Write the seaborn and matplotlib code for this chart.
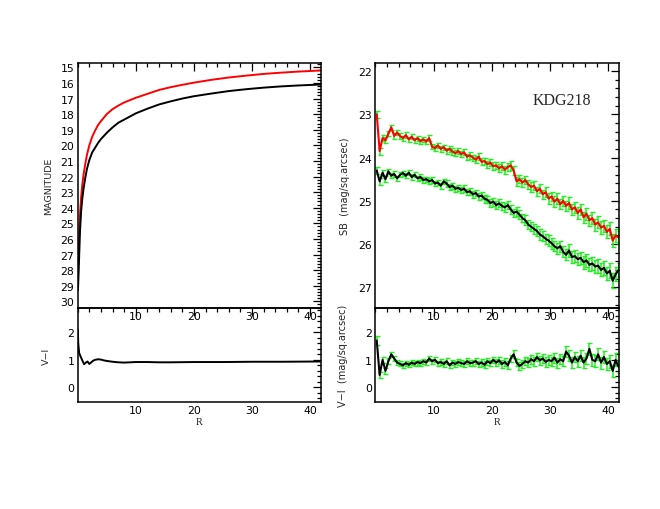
import numpy as np
import matplotlib
matplotlib.use("Agg")
import matplotlib.pyplot as plt
from matplotlib.ticker import MultipleLocator, FixedLocator
import seaborn as sns
import pandas as pd

# ---- cumulative magnitude curves (left top) ----
r_cum = [0.05, 0.2, 0.4, 0.6, 0.8, 1.0, 1.3, 1.6, 2.0, 2.5, 3.0, 3.5, 4.0, 5.0, 6.0,
         7.0, 8.0, 10.0, 12.0, 14.0, 16.0, 18.0, 20.0, 23.0, 26.0, 29.0, 32.0, 35.0, 38.0, 41.8]
mag_red = [28.5, 26.4, 24.4, 23.3, 22.5, 21.9, 21.2, 20.6, 20.0, 19.45, 19.05, 18.7, 18.45,
           18.0, 17.68, 17.45, 17.25, 16.95, 16.7, 16.45, 16.27, 16.12, 15.98, 15.8, 15.65,
           15.53, 15.42, 15.34, 15.27, 15.2]
mag_black = [29.3, 27.7, 25.5, 24.2, 23.4, 22.8, 22.1, 21.5, 20.95, 20.45, 20.15, 19.85, 19.6,
             19.2, 18.85, 18.55, 18.35, 17.95, 17.65, 17.38, 17.18, 17.0, 16.85, 16.68, 16.52,
             16.4, 16.3, 16.22, 16.16, 16.1]

# ---- integrated colour (left bottom) ----
r_col = [0.02, 0.1, 0.25, 0.5, 0.8, 1.1, 1.4, 1.7, 2.0, 2.3, 2.6, 3.0, 3.5, 4.0, 4.5, 5.0,
         6.0, 7.0, 8.0, 10.0, 12.0, 14.0, 16.0, 20.0, 25.0, 30.0, 35.0, 41.8]
vi_cum = [2.1, 1.6, 1.25, 1.12, 0.98, 0.84, 0.9, 0.94, 0.85, 0.9, 0.96, 1.0, 1.02, 1.01,
          0.98, 0.96, 0.93, 0.91, 0.9, 0.92, 0.92, 0.91, 0.91, 0.92, 0.92, 0.93, 0.93, 0.94]

# ---- surface brightness profiles (right top) ----
r_sb = [0.25, 0.75, 1.25, 1.75, 2.25, 2.75, 3.25, 3.75, 4.25, 4.75, 5.25, 5.75, 6.25, 6.75,
        7.25, 7.75, 8.25, 8.75, 9.25, 9.75, 10.25, 10.75, 11.25, 11.75, 12.25, 12.75, 13.25,
        13.75, 14.25, 14.75, 15.25, 15.75, 16.25, 16.75, 17.25, 17.75, 18.25, 18.75, 19.25,
        19.75, 20.25, 20.75, 21.25, 21.75, 22.25, 22.75, 23.25, 23.75, 24.25, 24.75, 25.25,
        25.75, 26.25, 26.75, 27.25, 27.75, 28.25, 28.75, 29.25, 29.75, 30.25, 30.75, 31.25,
        31.75, 32.25, 32.75, 33.25, 33.75, 34.25, 34.75, 35.25, 35.75, 36.25, 36.75, 37.25,
        37.75, 38.25, 38.75, 39.25, 39.75, 40.25, 40.75, 41.25, 41.75]
sb_red = [23.0, 23.85, 23.55, 23.6, 23.45, 23.3, 23.5, 23.42, 23.5, 23.55, 23.48, 23.58,
          23.52, 23.6, 23.55, 23.62, 23.58, 23.63, 23.55, 23.75, 23.78, 23.72, 23.8, 23.76,
          23.84, 23.8, 23.86, 23.9, 23.85, 23.92, 23.88, 23.98, 23.95, 24.0, 24.05, 23.98,
          24.1, 24.08, 24.15, 24.12, 24.2, 24.18, 24.25, 24.2, 24.28, 24.22, 24.18, 24.3,
          24.55, 24.5, 24.58, 24.52, 24.62, 24.68, 24.65, 24.78, 24.72, 24.85, 24.8, 24.95,
          24.9, 25.02, 24.95, 25.08, 25.0, 25.12, 25.05, 25.2, 25.15, 25.28, 25.2, 25.38,
          25.3, 25.45, 25.4, 25.55, 25.5, 25.62, 25.58, 25.72, 25.65, 25.92, 25.8, 25.85]
err_red = [0.08, 0.08, 0.07, 0.07, 0.06, 0.06, 0.06, 0.06, 0.06, 0.06, 0.06, 0.06, 0.06, 0.06,
           0.06, 0.06, 0.06, 0.06, 0.07, 0.06, 0.06, 0.06, 0.06, 0.06, 0.07, 0.06, 0.07, 0.07,
           0.07, 0.07, 0.07, 0.07, 0.08, 0.07, 0.08, 0.08, 0.08, 0.08, 0.08, 0.08, 0.09, 0.08,
           0.09, 0.09, 0.09, 0.09, 0.1, 0.1, 0.1, 0.1, 0.1, 0.1, 0.1, 0.11, 0.1, 0.11, 0.11,
           0.11, 0.11, 0.12, 0.11, 0.12, 0.12, 0.12, 0.12, 0.12, 0.13, 0.12, 0.13, 0.13, 0.13,
           0.13, 0.14, 0.13, 0.14, 0.14, 0.14, 0.15, 0.14, 0.15, 0.15, 0.16, 0.15, 0.16]
sb_black = [24.3, 24.55, 24.35, 24.5, 24.32, 24.42, 24.38, 24.48, 24.4, 24.36, 24.42, 24.35,
            24.45, 24.4, 24.48, 24.45, 24.52, 24.5, 24.55, 24.52, 24.6, 24.58, 24.65, 24.55,
            24.6, 24.68, 24.65, 24.72, 24.7, 24.75, 24.72, 24.8, 24.78, 24.85, 24.82, 24.9,
            24.88, 24.95, 24.98, 25.05, 25.02, 25.1, 25.06, 25.12, 25.15, 25.1, 25.2, 25.28,
            25.25, 25.32, 25.4, 25.45, 25.55, 25.6, 25.65, 25.7, 25.78, 25.82, 25.88, 25.92,
            25.98, 26.05, 26.1, 26.05, 26.18, 26.25, 26.15, 26.3, 26.28, 26.35, 26.32, 26.42,
            26.38, 26.48, 26.45, 26.52, 26.5, 26.6, 26.55, 26.68, 26.62, 26.85, 26.7, 26.6]
err_black = [0.08, 0.08, 0.07, 0.07, 0.06, 0.06, 0.06, 0.06, 0.06, 0.06, 0.06, 0.06, 0.06,
             0.06, 0.06, 0.06, 0.06, 0.06, 0.07, 0.06, 0.06, 0.06, 0.07, 0.06, 0.07, 0.07,
             0.07, 0.07, 0.07, 0.07, 0.08, 0.07, 0.08, 0.08, 0.08, 0.08, 0.08, 0.09, 0.08, 0.09,
             0.09, 0.09, 0.09, 0.1, 0.1, 0.1, 0.1, 0.1, 0.1, 0.11, 0.1, 0.11, 0.11, 0.11, 0.12,
             0.11, 0.12, 0.12, 0.12, 0.12, 0.13, 0.12, 0.13, 0.13, 0.13, 0.13, 0.14, 0.13, 0.14,
             0.14, 0.14, 0.15, 0.14, 0.15, 0.15, 0.15, 0.16, 0.15, 0.16, 0.16, 0.17, 0.17,
             0.16, 0.17]

# ---- local colour profile (right bottom) ----
vi_local = [1.7, 0.45, 1.0, 0.6, 0.95, 1.2, 1.05, 0.9, 0.85, 0.8, 0.88, 0.82, 0.9, 0.85,
            0.92, 0.88, 0.95, 0.9, 1.05, 0.95, 1.0, 0.88, 0.92, 0.85, 0.95, 0.8, 0.9, 0.85,
            0.92, 0.88, 0.85, 0.95, 0.88, 0.9, 0.95, 0.85, 0.9, 0.82, 0.95, 0.88, 1.0, 0.9,
            0.98, 0.85, 0.92, 0.8, 1.05, 1.2, 0.9, 0.78, 0.85, 0.95, 0.9, 1.02, 0.95, 1.1,
            0.98, 1.05, 0.92, 1.0, 0.95, 1.08, 0.9, 1.02, 0.95, 1.3, 1.15, 0.9, 1.1, 0.95,
            1.15, 0.9, 1.05, 1.4, 1.0, 0.95, 1.2, 0.9, 1.1, 0.85, 0.95, 0.6, 1.0, 0.75]
err_vi = [0.15, 0.12, 0.11, 0.11, 0.1, 0.1, 0.1, 0.1, 0.09, 0.09, 0.09, 0.09, 0.09, 0.09,
          0.09, 0.09, 0.09, 0.09, 0.1, 0.09, 0.09, 0.09, 0.1, 0.1, 0.1, 0.1, 0.1, 0.1, 0.1,
          0.1, 0.11, 0.1, 0.11, 0.11, 0.11, 0.11, 0.12, 0.12, 0.12, 0.12, 0.12, 0.13, 0.13,
          0.13, 0.13, 0.14, 0.14, 0.14, 0.14, 0.15, 0.15, 0.15, 0.15, 0.16, 0.16, 0.16, 0.16,
          0.17, 0.17, 0.17, 0.17, 0.18, 0.18, 0.18, 0.18, 0.19, 0.19, 0.19, 0.19, 0.2, 0.2,
          0.2, 0.2, 0.21, 0.21, 0.21, 0.22, 0.22, 0.22, 0.22, 0.23, 0.23, 0.24, 0.24]

galaxy = "KDG218"
x_max = 41.8

sns.set_style("white")
plt.rcParams['font.family'] = ['DejaVu Sans']

fig = plt.figure(figsize=(6.6, 5.1), dpi=100)
ax_mag = fig.add_axes([0.1177, 0.3941, 0.368, 0.4798])
ax_ci = fig.add_axes([0.1177, 0.2098, 0.368, 0.1843])
ax_sb = fig.add_axes([0.5686, 0.3941, 0.369, 0.4798])
ax_vi = fig.add_axes([0.5686, 0.2098, 0.369, 0.1843])

# lower panels transparent so the upper panels' x labels stay visible
for ax in (ax_ci, ax_vi):
    ax.patch.set_alpha(0)
ax_mag.set_zorder(2)
ax_sb.set_zorder(2)
ax_mag.patch.set_alpha(0)
ax_sb.patch.set_alpha(0)

green = '#22ee22'

# left top: growth curves
df_cum = pd.DataFrame({'R': r_cum * 2, 'mag': mag_red + mag_black,
                       'band': ['red'] * len(r_cum) + ['black'] * len(r_cum)})
sns.lineplot(data=df_cum, x='R', y='mag', hue='band', palette={'red': 'red', 'black': 'black'},
             estimator=None, sort=False, lw=1.4, legend=False, ax=ax_mag)
ax_mag.set_ylim(30.43, 14.74)

# left bottom: integrated colour
sns.lineplot(x=r_col, y=vi_cum, color='black', estimator=None, sort=False, lw=1.4,
             ax=ax_ci)

# right top: SB profiles with error bars
ax_sb.errorbar(r_sb, sb_red, yerr=err_red, fmt='none', ecolor=green, elinewidth=1.1,
               capsize=1.8, capthick=1.0, zorder=1)
ax_sb.errorbar(r_sb, sb_black, yerr=err_black, fmt='none', ecolor=green, elinewidth=1.1,
               capsize=1.8, capthick=1.0, zorder=1)
sns.lineplot(x=r_sb, y=sb_red, color='red', estimator=None, sort=False, lw=1.5,
             ax=ax_sb, zorder=2)
sns.lineplot(x=r_sb, y=sb_black, color='black', estimator=None, sort=False, lw=1.5,
             ax=ax_sb, zorder=2)
ax_sb.set_ylim(27.48, 21.82)
ax_sb.text(0.645, 0.835, galaxy, transform=ax_sb.transAxes, fontsize=11.5,
           family='Liberation Serif')

# right bottom: local colour
ax_vi.errorbar(r_sb, vi_local, yerr=err_vi, fmt='none', ecolor=green, elinewidth=1.1,
               capsize=1.8, capthick=1.0, zorder=1)
sns.lineplot(x=r_sb, y=vi_local, color='black', estimator=None, sort=False, lw=1.5,
             ax=ax_vi, zorder=2)

for ax in (ax_ci, ax_vi):
    ax.set_ylim(-0.53, 2.88)
    ax.yaxis.set_major_locator(FixedLocator([0, 1, 2]))
    ax.yaxis.set_minor_locator(MultipleLocator(0.2))
    ax.set_xlabel('R', fontsize=7.5, family='Liberation Serif', labelpad=1)

ax_mag.yaxis.set_major_locator(MultipleLocator(1))
ax_mag.yaxis.set_minor_locator(MultipleLocator(0.2))
ax_sb.yaxis.set_major_locator(MultipleLocator(1))
ax_sb.yaxis.set_minor_locator(MultipleLocator(0.2))

for ax in (ax_mag, ax_ci, ax_sb, ax_vi):
    ax.set_xlim(0, x_max)
    ax.xaxis.set_major_locator(FixedLocator([10, 20, 30, 40]))
    ax.xaxis.set_minor_locator(MultipleLocator(2))
    ax.tick_params(which='both', direction='in', top=True, right=True, colors='black',
                   labelsize=7.8, pad=2.5)
    ax.tick_params(which='major', length=6, width=0.9)
    ax.tick_params(which='minor', length=3, width=0.9)
    for s in ax.spines.values():
        s.set_linewidth(1.1)
        s.set_color('black')

ax_mag.set_xlabel('')
ax_mag.set_ylabel('MAGNITUDE', fontsize=6.8, labelpad=5)
ax_ci.set_ylabel('V−I', fontsize=6.8, labelpad=12)
ax_sb.set_xlabel('')
ax_sb.set_ylabel('SB  (mag/sq.arcsec)', fontsize=7, labelpad=6)
ax_vi.set_ylabel('V−I  (mag/sq.arcsec)', fontsize=7, labelpad=12)

fig.savefig('out.png', dpi=100, facecolor='white')
